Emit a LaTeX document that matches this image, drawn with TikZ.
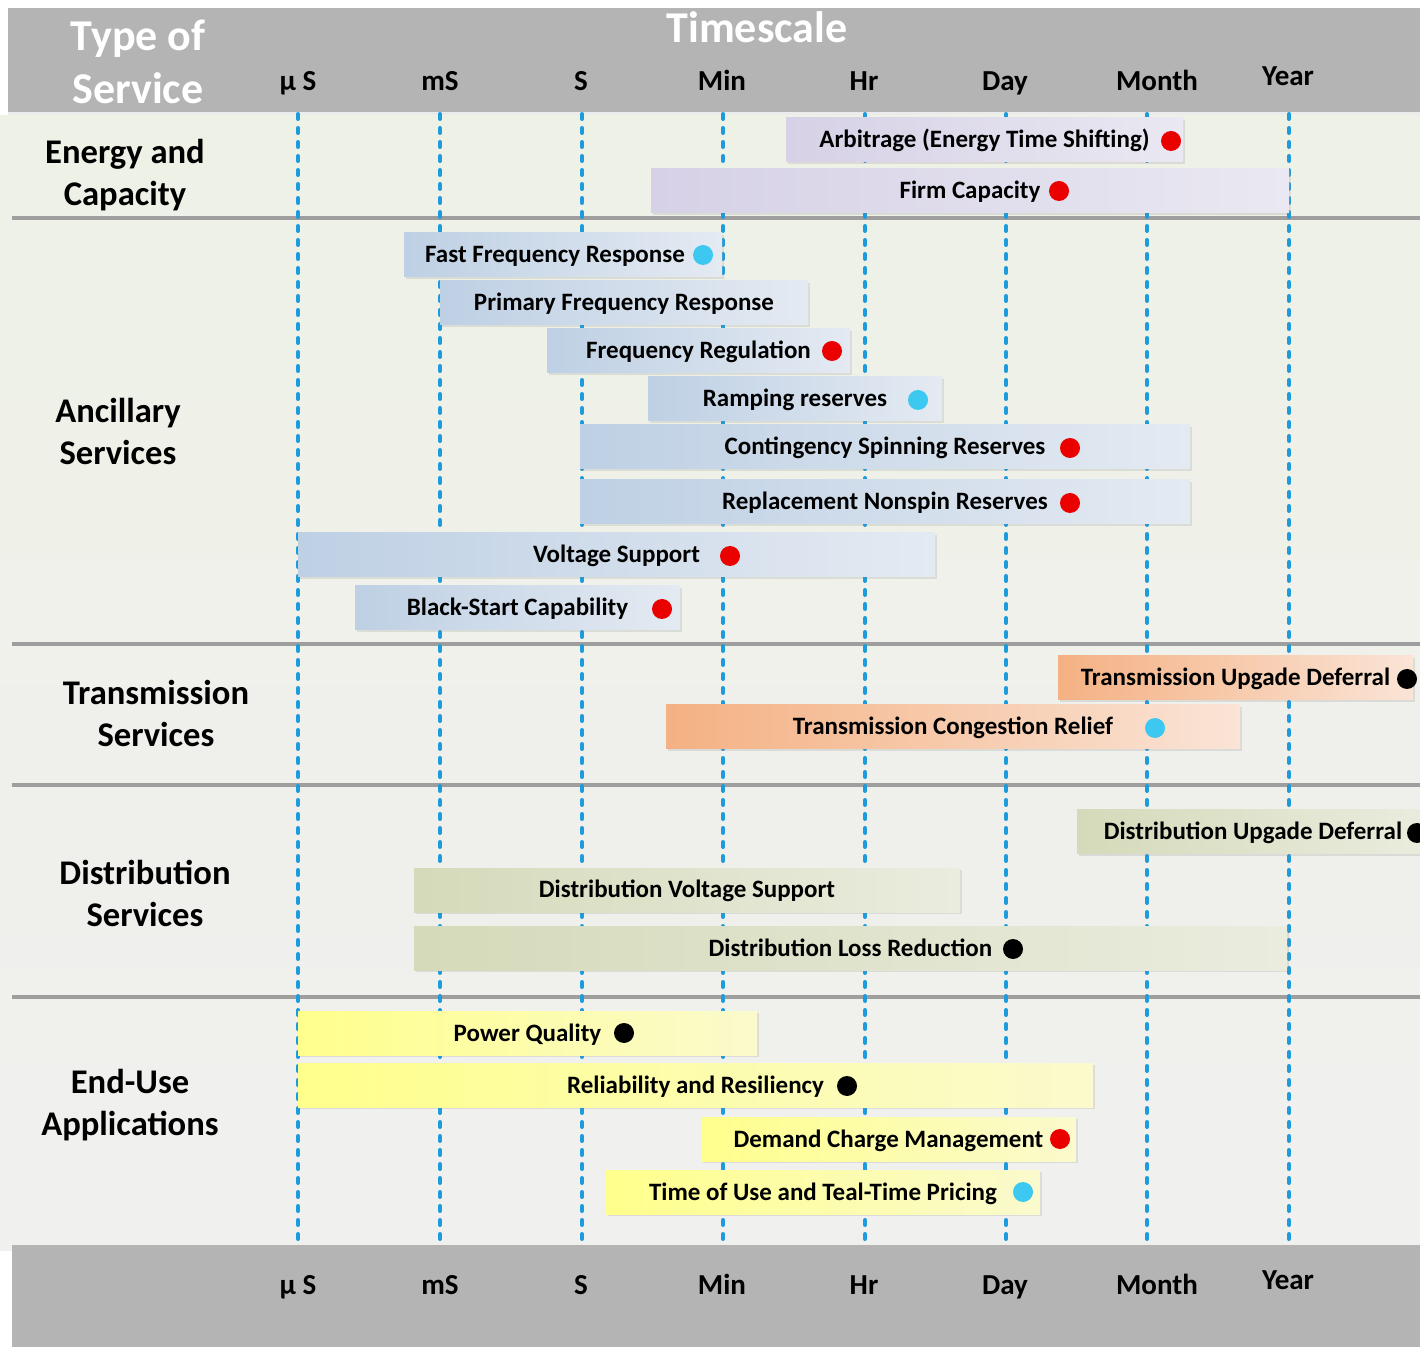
\documentclass[tikz,border=0pt]{standalone}
\usepackage{fontspec}
\setmainfont{Carlito}
\usetikzlibrary{shadows}

\definecolor{headgray}{RGB}{180,180,180}
\definecolor{bodytop}{RGB}{238,241,230}
\definecolor{bodybot}{RGB}{240,240,239}
\definecolor{gridblue}{RGB}{30,155,220}
\definecolor{dotred}{RGB}{235,0,0}
\definecolor{dotcyan}{RGB}{60,200,240}

\begin{document}
\begin{tikzpicture}[x=0.5pt, y=-0.5pt,
  headtxt/.style={text=white, font=\fontsize{22}{26.5}\selectfont\bfseries, align=center},
  ticktxt/.style={anchor=base, font=\fontsize{14.5}{17}\selectfont\bfseries},
  sectxt/.style={font=\fontsize{17.3}{21}\selectfont\bfseries, align=center},
  gridline/.style={gridblue, line width=2pt, line cap=round, dash pattern=on 2.5pt off 4.5pt},
  divider/.style={black!38, line width=2pt},
  bar/.style={rectangle, inner sep=0pt, minimum height=22pt,
    text height=11pt, text depth=3pt,
    font=\fontsize{12.5}{15}\selectfont\bfseries,
    drop shadow={opacity=0.18, shadow xshift=1.2pt, shadow yshift=-1.2pt}},
  enbar/.style={bar, left color={rgb,255:red,214;green,209;blue,230}, right color={rgb,255:red,234;green,232;blue,242}},
  anbar/.style={bar, left color={rgb,255:red,190;green,208;blue,228}, right color={rgb,255:red,228;green,234;blue,242}},
  trbar/.style={bar, left color={rgb,255:red,244;green,177;blue,131}, right color={rgb,255:red,250;green,228;blue,214}},
  dibar/.style={bar, left color={rgb,255:red,213;green,218;blue,186}, right color={rgb,255:red,234;green,236;blue,222}},
  eubar/.style={bar, left color={rgb,255:red,255;green,255;blue,140}, right color={rgb,255:red,250;green,250;blue,205}},
  dot/.style={circle, fill=#1, minimum size=10pt, inner sep=0pt}]

\useasboundingbox (0,0) rectangle (1420,1347);

% background and bands
\fill[top color=bodytop, bottom color=bodybot] (0,116) rectangle (1420,1250);
\fill[headgray, drop shadow={opacity=0.15, shadow xshift=0pt, shadow yshift=-1.5pt}] (8,8) rectangle (1420,112);
\fill[headgray] (12,1245) rectangle (1420,1347);
\foreach \y in {218,644,785,997}
  \draw[divider] (12,\y) -- (1420,\y);

% grid
\foreach \x [count=\i] in {298,440,582,723,865,1006,1147,1289} {
  \coordinate (top\i) at (\x,114);
  \coordinate (bot\i) at (\x,1245);
  \draw[gridline] (top\i) -- (bot\i);
}

% header
\node[headtxt] (typeof) at (138,62) {Type of\\Service};
\node[headtxt] (timescale) at (757,27) {Timescale};
\foreach \x/\lab/\nm in {298/µ S/us, 440/mS/ms, 581/S/s, 722/Min/min, 864/Hr/hr, 1005/Day/day, 1157/Month/month} {
  \node[ticktxt] (h\nm) at (\x,91) {\lab};
  \node[ticktxt] (b\nm) at (\x,1294) {\lab};
}
\node[ticktxt] (hyear) at (1288,86) {Year};
\node[ticktxt] (byear) at (1288,1289) {Year};

% row labels
\node[sectxt] (energy) at (125,175) {Energy and\\Capacity};
\node[sectxt] (ancil) at (118,431) {Ancillary\\Services};
\node[sectxt] (trans) at (156,713) {Transmission\\Services};
\node[sectxt] (distr) at (145,893) {Distribution\\Services};
\node[sectxt] (enduse) at (130,1105) {End-Use\\Applications};

% energy and capacity
\node[enbar, minimum width=198.5pt] (arb) at (984.5,140) {Arbitrage (Energy Time Shifting)};
\node[dot=dotred] (arbdot) at (1171,141) {};
\node[enbar, minimum width=319pt] (firm) at (970,191) {Firm Capacity};
\node[dot=dotred] (firmdot) at (1059,191) {};

% ancillary
\node[anbar, minimum width=159pt] (ffr) at (563,255) {Fast Frequency Response\hspace*{8pt}};
\node[dot=dotcyan] (ffrdot) at (703,255) {};
\node[anbar, minimum width=184pt] (pfr) at (624,303) {Primary Frequency Response};
\node[anbar, minimum width=151.5pt] (freg) at (698.5,351) {Frequency Regulation};
\node[dot=dotred] (fregdot) at (832,351) {};
\node[anbar, minimum width=147pt] (ramp) at (795,399) {Ramping reserves};
\node[dot=dotcyan] (rampdot) at (918,400) {};
\node[anbar, minimum width=305pt] (spin) at (885,447) {Contingency Spinning Reserves};
\node[dot=dotred] (spindot) at (1070,448) {};
\node[anbar, minimum width=305pt] (nonspin) at (885,502) {Replacement Nonspin Reserves};
\node[dot=dotred] (nonspindot) at (1070,503) {};
\node[anbar, minimum width=318.5pt] (volt) at (616.5,555) {Voltage Support};
\node[dot=dotred] (voltdot) at (730,556) {};
\node[anbar, minimum width=162.5pt] (black) at (517.5,608) {Black-Start Capability};
\node[dot=dotred] (blackdot) at (662,609) {};

% transmission
\node[trbar, minimum width=177.5pt] (tud) at (1235.5,678) {Transmission Upgade Deferral};
\node[dot=black] (tuddot) at (1407,679) {};
\node[trbar, minimum width=287pt] (tcr) at (953,727) {Transmission Congestion Relief};
\node[dot=dotcyan] (tcrdot) at (1155,728) {};

% distribution
\node[dibar, minimum width=176pt] (dud) at (1253,832) {Distribution Upgade Deferral};
\node[dot=black] (duddot) at (1417,833) {};
\node[dibar, minimum width=273pt] (dvs) at (687,890) {Distribution Voltage Support};
\node[dibar, minimum width=436.5pt] (dlr) at (850.5,948) {Distribution Loss Reduction};
\node[dot=black] (dlrdot) at (1013,949) {};

% end-use
\node[eubar, minimum width=229.5pt] (pq) at (527.5,1033) {Power Quality};
\node[dot=black] (pqdot) at (624,1033) {};
\node[eubar, minimum width=397.5pt] (rr) at (695.5,1085) {Reliability and Resiliency};
\node[dot=black] (rrdot) at (847,1086) {};
\node[eubar, minimum width=187.5pt] (dcm) at (888.5,1139) {Demand Charge Management};
\node[dot=dotred] (dcmdot) at (1060,1139) {};
\node[eubar, minimum width=217pt] (tou) at (823,1192) {Time of Use and Teal-Time Pricing};
\node[dot=dotcyan] (toudot) at (1023,1192) {};
\end{tikzpicture}
\end{document}
